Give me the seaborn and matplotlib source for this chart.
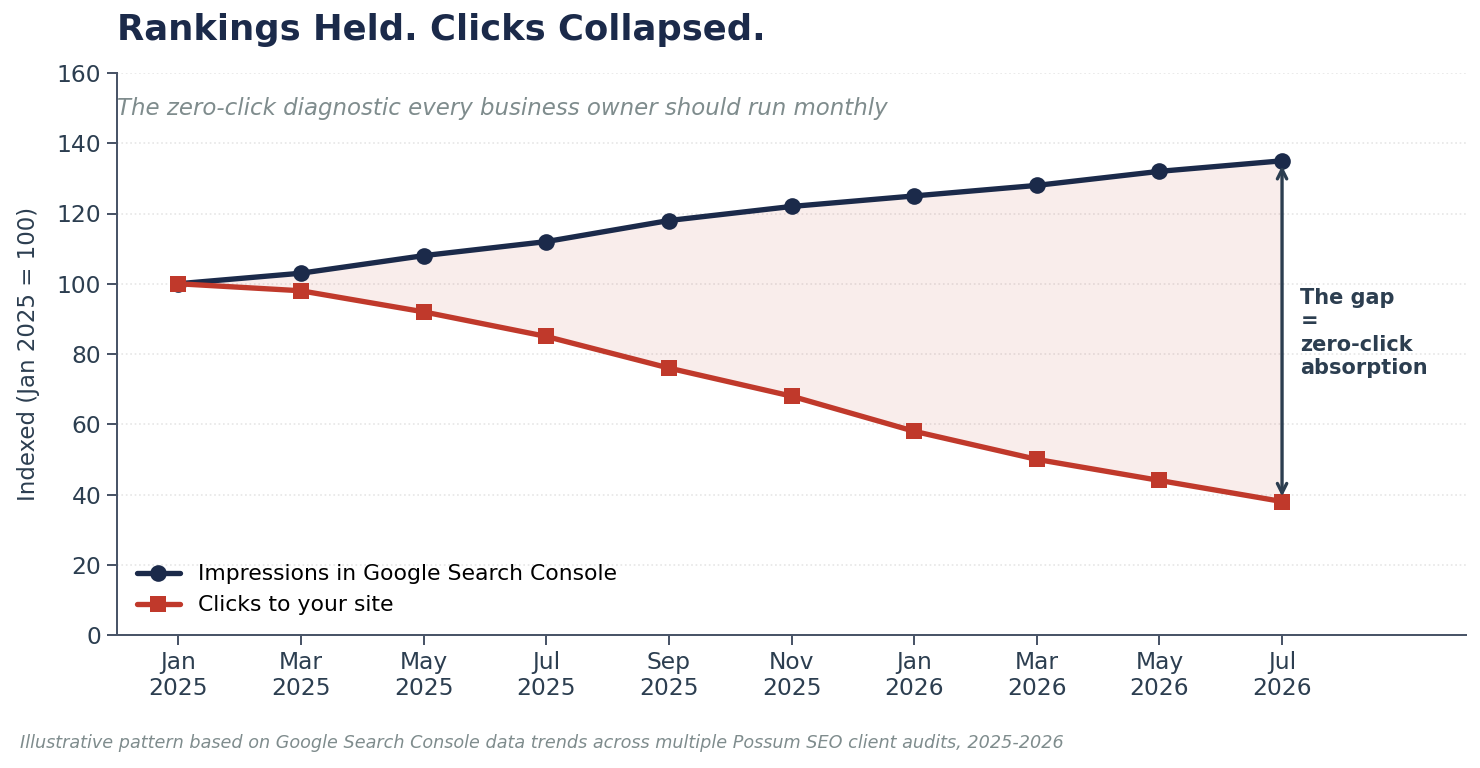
import numpy as np
import pandas as pd
import matplotlib.pyplot as plt
import seaborn as sns

# ============================================================
# DATA
# ============================================================
month_labels = ["Jan\n2025", "Mar\n2025", "May\n2025", "Jul\n2025", "Sep\n2025",
                "Nov\n2025", "Jan\n2026", "Mar\n2026", "May\n2026", "Jul\n2026"]
impressions = [100, 103, 108, 112, 118, 122, 125, 128, 132, 135]
clicks = [100, 98, 92, 85, 76, 68, 58, 50, 44, 38]

NAVY = "#1b2a4a"
RED = "#c0392b"
INK = "#2c3e50"
GREY = "#7f8c8d"

sns.set_style("ticks")
plt.rcParams["font.family"] = ["DejaVu Sans"]

df = pd.DataFrame({"pos": np.arange(len(month_labels)),
                   "impressions": impressions,
                   "clicks": clicks})

# ============================================================
# CHART
# ============================================================
fig, ax = plt.subplots(figsize=(1480 / 120, 768 / 120), dpi=120)
fig.subplots_adjust(left=117 / 1480, right=1466 / 1480, top=1 - 73 / 768, bottom=1 - 635 / 768)

ax.fill_between(df["pos"], df["clicks"], df["impressions"], color=RED, alpha=0.09, linewidth=0)
sns.lineplot(data=df, x="pos", y="impressions", ax=ax, color=NAVY, linewidth=3.2,
             marker="o", markersize=10, markeredgewidth=0,
             label="Impressions in Google Search Console")
sns.lineplot(data=df, x="pos", y="clicks", ax=ax, color=RED, linewidth=3.2,
             marker="s", markersize=10, markeredgewidth=0,
             label="Clicks to your site")

ax.annotate("", xy=(df["pos"].iloc[-1], clicks[-1]), xytext=(df["pos"].iloc[-1], impressions[-1]),
            arrowprops=dict(arrowstyle="<->", color=INK, lw=2, shrinkA=3, shrinkB=3,
                            mutation_scale=14))
ax.text(df["pos"].iloc[-1] + 0.15, 86, "The gap\n=\nzero-click\nabsorption",
        fontsize=12.5, fontweight="bold", color=INK, va="center", ha="left",
        linespacing=1.2)

ax.set_xlim(-0.5, 10.5)
ax.set_ylim(0, 160)
ax.set_yticks(range(0, 161, 20))
ax.set_xticks(df["pos"])
ax.set_xticklabels(month_labels)
ax.tick_params(axis="both", labelsize=14, colors="#4a5568", labelcolor=INK,
               length=6, width=1.2, direction="out")
ax.set_xlabel("")
ax.set_ylabel("Indexed (Jan 2025 = 100)", fontsize=13.75, color=INK, labelpad=10)

ax.grid(axis="y", linestyle=":", color="#e6e6e6", linewidth=1)
ax.grid(axis="x", visible=False)
sns.despine(ax=ax)
for side in ["left", "bottom"]:
    ax.spines[side].set_color("#4a5568")
    ax.spines[side].set_linewidth(1.2)

leg = ax.legend(loc="lower left", frameon=False, fontsize=13.1, handlelength=2.0)
for t in leg.get_texts():
    t.set_color("black")

ax.set_title("Rankings Held. Clicks Collapsed.", loc="left", fontsize=21.2,
             fontweight="bold", color=NAVY, pad=20)
ax.text(0, 0.937, "The zero-click diagnostic every business owner should run monthly",
        transform=ax.transAxes, fontsize=13.7, style="italic", color=GREY,
        ha="left", va="center")
fig.text(20 / 1480, 1 - 743 / 768,
         "Illustrative pattern based on Google Search Console data trends across multiple Possum SEO client audits, 2025-2026",
         fontsize=10.6, style="italic", color=GREY, ha="left", va="center")

fig.savefig("out.png", dpi=120)
